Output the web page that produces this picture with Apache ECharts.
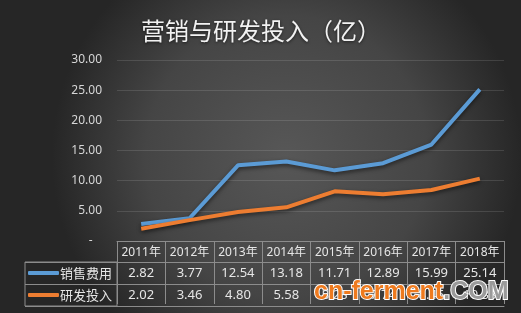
<!DOCTYPE html>
<html><head><meta charset="utf-8">
<script src="https://cdn.jsdelivr.net/npm/echarts@6/dist/echarts.min.js"></script>
<style>html,body{margin:0;padding:0;background:#333;}#c{width:521px;height:313px;}</style>
</head><body><div id="c"></div>
<script>
const titleText = '营销与研发投入（亿）';
const years = ['2011年','2012年','2013年','2014年','2015年','2016年','2017年','2018年'];
const salesName = '销售费用';
const rdName = '研发投入';
const sales = [2.82, 3.77, 12.54, 13.18, 11.71, 12.89, 15.99, 25.14];
const rd = [2.02, 3.46, 4.80, 5.58, 8.23, 7.74, 8.45, 10.33];
const yTicks = [0, 5, 10, 15, 20, 25, 30];
const watermarkA = 'cn-ferment';
const watermarkB = '.COM';

const font = 'Noto Sans, Noto Sans CJK SC, sans-serif';
const lineC = '#8c8c8c';
const chart = echarts.init(document.getElementById('c'), null, {renderer: 'canvas'});

function hiddenAxis(off) {
  return {
    type: 'category', data: years, gridIndex: 0, position: 'bottom', offset: off,
    axisLine: {show: true, lineStyle: {color: lineC, width: 1}},
    axisTick: {show: false}, axisLabel: {show: false}, splitLine: {show: false}
  };
}

chart.setOption({
  animation: false,
  backgroundColor: {
    type: 'radial', x: 0.55, y: 0.5, r: 0.75,
    colorStops: [{offset: 0, color: '#575757'}, {offset: 0.6, color: '#454545'}, {offset: 1, color: '#262626'}]
  },
  title: {
    text: titleText, left: 136, top: 14,
    textStyle: {color: '#f2f2f2', fontSize: 24, fontWeight: 'normal', fontFamily: 'Noto Sans CJK SC',
      textShadowColor: 'rgba(0,0,0,0.6)', textShadowBlur: 3, textShadowOffsetY: 1}
  },
  legend: {
    data: [salesName, rdName], orient: 'vertical', left: 28, top: 265, padding: 0,
    itemWidth: 31, itemHeight: 4, icon: 'roundRect', itemGap: 6,
    textStyle: {color: '#e6e6e6', fontSize: 13, fontFamily: 'Noto Sans CJK SC', lineHeight: 16, padding: [0, 0, 0, -4]}
  },
  grid: [
    {left: 117, right: 17, top: 60, bottom: 72, containLabel: false},
    {left: 25, top: 262, width: 92, height: 44, show: true, borderColor: lineC, borderWidth: 1, backgroundColor: 'transparent'}
  ],
  xAxis: [
    {
      type: 'category', data: years, gridIndex: 0, position: 'bottom', offset: 2, boundaryGap: true,
      axisLine: {show: true, lineStyle: {color: lineC, width: 1}},
      axisTick: {show: true, length: 63, interval: 0, lineStyle: {color: lineC, width: 1}},
      axisLabel: {
        interval: 0, margin: 0, color: '#e6e6e6', fontFamily: font,
        formatter: function (v, i) {
          return '{y|' + v + '}\n{a|' + sales[i].toFixed(2) + '}\n{b|' + rd[i].toFixed(2) + '}';
        },
        rich: {
          y: {fontSize: 12, lineHeight: 19, color: '#e6e6e6', fontFamily: font},
          a: {fontSize: 13, lineHeight: 22, color: '#e6e6e6', fontFamily: font},
          b: {fontSize: 13, lineHeight: 22, color: '#e6e6e6', fontFamily: font}
        }
      },
      splitLine: {show: false}
    },
    hiddenAxis(21), hiddenAxis(43), hiddenAxis(65),
    {type: 'value', gridIndex: 1, show: false}
  ],
  yAxis: [
    {
      type: 'value', min: 0, max: 30, interval: 5, gridIndex: 0,
      axisLine: {show: false}, axisTick: {show: false},
      axisLabel: {margin: 15, color: '#d6d6d6', fontSize: 12, fontFamily: font,
        formatter: function (v) { return yTicks.indexOf(v) >= 0 && v === 0 ? '-   ' : v.toFixed(2); }},
      splitLine: {show: true, lineStyle: {color: 'rgba(255,255,255,0.12)', width: 1}}
    },
    {
      type: 'value', min: 0, max: 2, interval: 1, gridIndex: 1,
      axisLine: {show: false}, axisTick: {show: false}, axisLabel: {show: false},
      splitLine: {show: true, lineStyle: {color: lineC, width: 1}}
    }
  ],
  series: [
    {name: salesName, type: 'line', data: sales, xAxisIndex: 0, yAxisIndex: 0, symbol: 'none',
      itemStyle: {color: '#5b9bd5'},
      lineStyle: {width: 4, color: '#5b9bd5', shadowColor: 'rgba(0,0,0,0.55)', shadowBlur: 4, shadowOffsetY: 2}},
    {name: rdName, type: 'line', data: rd, xAxisIndex: 0, yAxisIndex: 0, symbol: 'none',
      itemStyle: {color: '#ed7d31'},
      lineStyle: {width: 4, color: '#ed7d31', shadowColor: 'rgba(0,0,0,0.55)', shadowBlur: 4, shadowOffsetY: 2}}
  ],
  graphic: [{
    type: 'text', left: 313, top: 279, z: 100,
    style: {
      text: '{a|' + watermarkA + '}{b|' + watermarkB + '}',
      rich: {
        a: {fontSize: 25, fontWeight: 'bold', fontFamily: 'Liberation Sans', fill: '#ee7a1e', stroke: '#ffffff', lineWidth: 2},
        b: {fontSize: 25, fontWeight: 'bold', fontFamily: 'Liberation Sans', fill: '#9a9a9a', stroke: '#ffffff', lineWidth: 2}
      }
    }
  }]
});
</script></body></html>
